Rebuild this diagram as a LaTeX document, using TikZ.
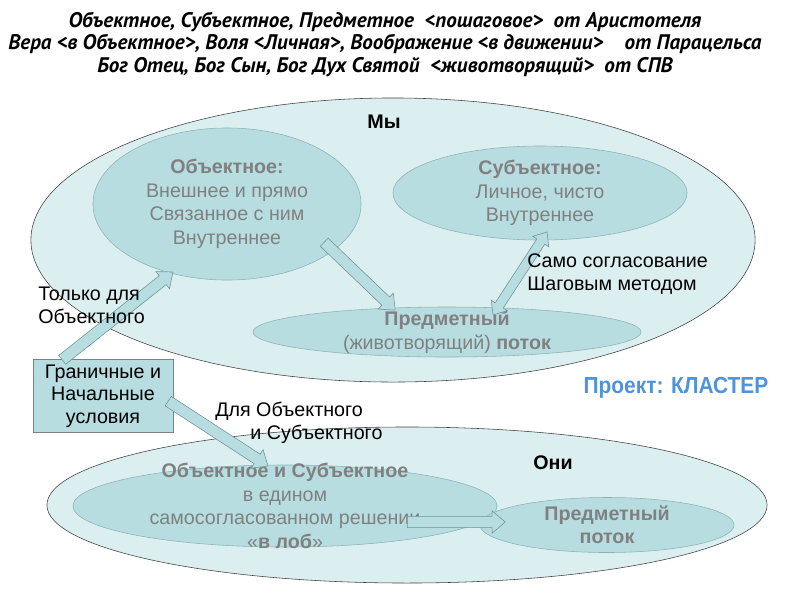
\documentclass[tikz,border=0pt]{standalone}
\usepackage{fontspec}
\setmainfont{Liberation Sans}
\newfontfamily\titlefont{PT Sans}
\usetikzlibrary{shapes.geometric,shapes.arrows,calc}

\definecolor{wefill}{HTML}{DBEEF0}
\definecolor{ovalfill}{HTML}{B7DDE1}
\definecolor{ovalline}{HTML}{8DB3B7}
\definecolor{arrline}{HTML}{6F9498}
\definecolor{ovaltext}{HTML}{808080}
\definecolor{projblue}{HTML}{4F94DA}

\tikzset{
	bigoval/.style={ellipse, draw=black!75, fill=wefill, inner sep=0pt},
	oval/.style={ellipse, draw=ovalline, fill=ovalfill, inner sep=0pt},
	ovaltxt/.style={text=ovaltext, align=center, inner sep=0pt, font=\fontsize{14}{16.7}\selectfont},
	note/.style={align=left, inner sep=0pt, font=\fontsize{14}{16.4}\selectfont},
	condbox/.style={rectangle, draw=black!50, fill=ovalfill, align=center, minimum width=3.5cm, minimum height=1.825cm, font=\fontsize{14}{16}\selectfont},
	blockarr/.style={single arrow, draw=arrline, fill=ovalfill, inner xsep=0pt, inner ysep=3.8pt, single arrow head extend=3.8pt, single arrow tip angle=80, anchor=tail},
	dblockarr/.style={double arrow, draw=arrline, fill=ovalfill, inner xsep=0pt, inner ysep=3.2pt, double arrow head extend=3.4pt, double arrow tip angle=80}
}

% block arrow from #1 to #2
\newcommand{\blockarrow}[2]{%
	\path let \p1=(#1), \p2=(#2), \n1={atan2(\y2-\y1,\x2-\x1)}, \n2={veclen(\x2-\x1,\y2-\y1)} in
		node[blockarr, rotate=\n1, minimum height=\n2] at (#1) {};}
% block arrow with two heads
\newcommand{\twoarrow}[2]{%
	\path let \p1=(#1), \p2=(#2), \n1={atan2(\y2-\y1,\x2-\x1)}, \n2={veclen(\x2-\x1,\y2-\y1)} in
		node[dblockarr, rotate=\n1, minimum height=\n2] at ($(#1)!.5!(#2)$) {};}

\begin{document}
\begin{tikzpicture}[x=0.025cm, y=-0.025cm]
	\useasboundingbox (0,0) rectangle (800,600);

	% the two big fields
	\node[bigoval, minimum width=18.1cm, minimum height=7.1cm] (we) at (393,240) {};
	\node[bigoval, minimum width=18cm, minimum height=3.9cm] (they) at (407,505) {};
	\node[font=\fontsize{14}{16}\selectfont\bfseries] (welbl) at (384,122) {Мы};
	\node[font=\fontsize{14}{16}\selectfont\bfseries] (theylbl) at (553,463) {Они};

	% inner ovals
	\node[oval, minimum width=6.7cm, minimum height=3.8cm] (obj) at (227,204) {};
	\node[oval, minimum width=7.35cm, minimum height=2.35cm] (subj) at (540,193) {};
	\node[oval, minimum width=9.7cm, minimum height=1.25cm] (pred) at (447,332) {};
	\node[oval, minimum width=10.6cm, minimum height=2.05cm] (both) at (285,506) {};
	\node[oval, minimum width=6.35cm, minimum height=1.375cm] (flow) at (607,525) {};

	\node[ovaltxt] (objtxt) at (obj.center) {\textbf{Объектное:}\\Внешнее и прямо\\Связанное с ним\\Внутреннее};
	\node[ovaltxt] (subjtxt) at (subj.center) {\textbf{Субъектное:}\\Личное, чисто\\Внутреннее};
	\node[ovaltxt] (predtxt) at (pred.center) {\textbf{Предметный}\\(животворящий) \textbf{поток}};
	\node[ovaltxt] (bothtxt) at (both.center) {\textbf{Объектное и Субъектное}\\в едином\\самосогласованном решении\\«\textbf{в лоб}»};
	\node[ovaltxt] (flowtxt) at (flow.center) {\textbf{Предметный}\\\textbf{поток}};

	\node[condbox] (cond) at (103,396) {Граничные и\\Начальные\\условия};

	% arrow ends
	\coordinate (objout) at (324,242);
	\coordinate (predin) at (395,310);
	\coordinate (predout) at (493,315);
	\coordinate (subjin) at (547,232);
	\coordinate (condtop) at (62,360);
	\coordinate (objin) at (173,272);
	\coordinate (condright) at (168,401);
	\coordinate (bothin) at (268,466);
	\coordinate (bothout) at (407,522);
	\coordinate (flowin) at (505,522);

	\blockarrow{objout}{predin}
	\twoarrow{predout}{subjin}
	\blockarrow{condtop}{objin}
	\blockarrow{condright}{bothin}
	\blockarrow{bothout}{flowin}

	% free labels
	\node[note, anchor=west] (onlyobj) at (38,305) {Только для\\Объектного};
	\node[note, anchor=west] (selfagree) at (527,274) {Само согласование\\Шаговым методом};
	\node[note, anchor=west] (forboth) at (215,423) {Для Объектного\\\hspace*{25pt}и Субъектного};
	\node[text=projblue, font=\fontsize{16.5}{18}\selectfont\bfseries, inner sep=0pt] (proj) at (676,388) {\scalebox{0.9}[1]{Проект: КЛАСТЕР}};

	\node[align=center, font=\titlefont\bfseries\itshape\fontsize{15}{16}\selectfont] (title) at (385,44)
		{Объектное, Субъектное, Предметное\ \ <пошаговое>\ \ от Аристотеля\\
		 Вера <в Объектное>, Воля <Личная>, Воображение <в движении>\ \ \ \ от Парацельса\\
		 Бог Отец, Бог Сын, Бог Дух Святой\ \ <животворящий>\ \ от СПВ};
\end{tikzpicture}
\end{document}
